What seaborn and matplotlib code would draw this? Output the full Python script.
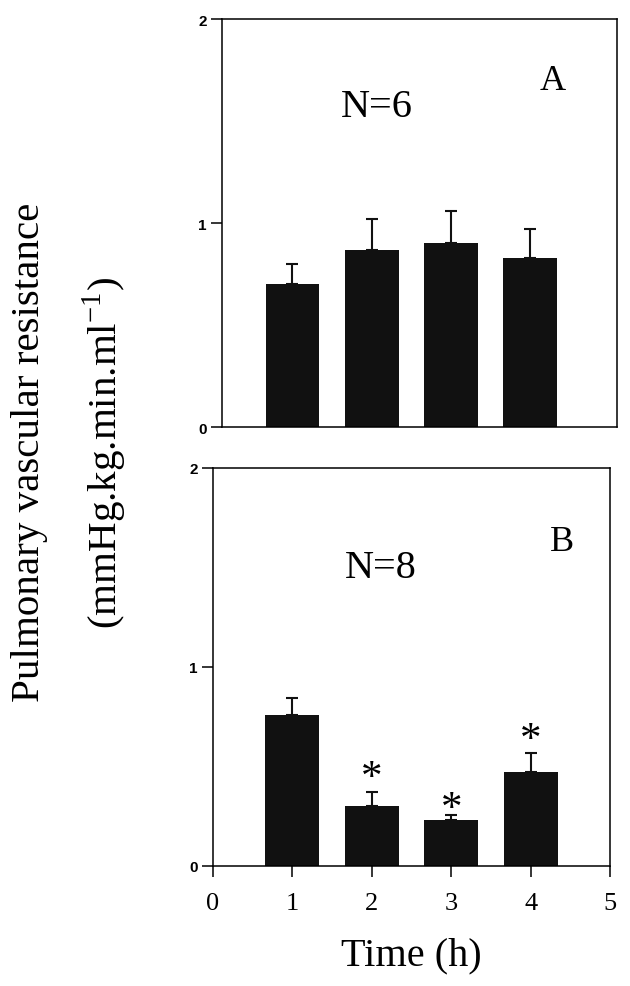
import matplotlib
matplotlib.use("Agg")
import matplotlib.pyplot as plt
import seaborn as sns
import pandas as pd
import numpy as np

# ---- data ----
times = [1, 2, 3, 4]
mean_A = [0.70, 0.87, 0.90, 0.83]
err_A = [0.10, 0.15, 0.16, 0.14]
mean_B = [0.76, 0.30, 0.23, 0.47]
err_B = [0.085, 0.07, 0.025, 0.10]
star_times = [2, 3, 4]
star_heights = [0.445, 0.29, 0.635]
yticks = [0, 1, 2]
xticks = [0, 1, 2, 3, 4, 5]

sns.set_theme(style="white")
plt.rcParams['font.family'] = ['Liberation Serif', 'DejaVu Serif']
plt.rcParams['mathtext.fontset'] = 'custom'
plt.rcParams['mathtext.rm'] = 'Liberation Serif'
plt.rcParams['text.color'] = 'black'
plt.rcParams['axes.labelcolor'] = 'black'
plt.rcParams['xtick.color'] = 'black'
plt.rcParams['ytick.color'] = 'black'

W, H = 630, 987
fig = plt.figure(figsize=(W / 100, H / 100), dpi=100)

def frac(l, r, b, t):
    return [l / W, 1 - b / H, (r - l) / W, (b - t) / H]

axA = fig.add_axes(frac(222, 617, 428, 20))
axB = fig.add_axes(frac(213, 610, 867, 469))

bar_color = "#111111"

def panel(ax, means, errs, xlim):
    df = pd.DataFrame({"time": times, "value": means})
    sns.barplot(data=df, x="time", y="value", native_scale=True, width=0.68,
                color=bar_color, saturation=1, errorbar=None, ax=ax,
                edgecolor=bar_color, linewidth=0)
    ax.errorbar(times, means, yerr=[np.zeros(len(errs)), errs], fmt="none",
                ecolor=bar_color, elinewidth=1.5, capsize=4.5, capthick=1.5)
    ax.set_xlim(*xlim)
    ax.set_ylim(0, 2)
    ax.set_yticks(yticks)
    ax.set_yticklabels([str(t) for t in yticks], family="Liberation Sans",
                       fontsize=11, fontweight="bold")
    ax.set_xlabel("")
    ax.set_ylabel("")
    for s in ax.spines.values():
        s.set_visible(True)
        s.set_color("black")
        s.set_linewidth(1.1)
    ax.tick_params(axis="y", direction="out", length=8, width=1.1, left=True,
                   pad=3, color="black", labelcolor="black")

panel(axA, mean_A, err_A, (0.11, 5.1))
axA.set_xticks([])
axA.text(2.07, 1.57, "N=6", fontsize=29, ha="center", va="center", color="black")
axA.text(4.29, 1.70, "A", fontsize=26, ha="center", va="center", color="black")

panel(axB, mean_B, err_B, (0, 5))
axB.set_xticks(xticks)
axB.set_xticklabels([str(t) for t in xticks], fontsize=19)
axB.tick_params(axis="x", direction="out", length=8, width=1.1, bottom=True,
                pad=11, color="black", labelcolor="black")
axB.text(2.11, 1.50, "N=8", fontsize=29, ha="center", va="center", color="black")
axB.text(4.39, 1.63, "B", fontsize=26, ha="center", va="center", color="black")
for t, h in zip(star_times, star_heights):
    axB.text(t, h, "*", fontsize=31, ha="center", va="center", color="black")

axB.set_xlabel("Time (h)", fontsize=29, labelpad=16, color="black")

fig.text(30 / W, 1 - 452 / H, "Pulmonary vascular resistance", fontsize=29.5,
         rotation=90, ha="center", va="center", color="black")
fig.text(105 / W, 1 - 453 / H, r"(mmHg.kg.min.ml$^{\mathregular{-1}}$)",
         fontsize=29.5, rotation=90, ha="center", va="center", color="black")

fig.savefig("out.png", dpi=100, facecolor="white")
